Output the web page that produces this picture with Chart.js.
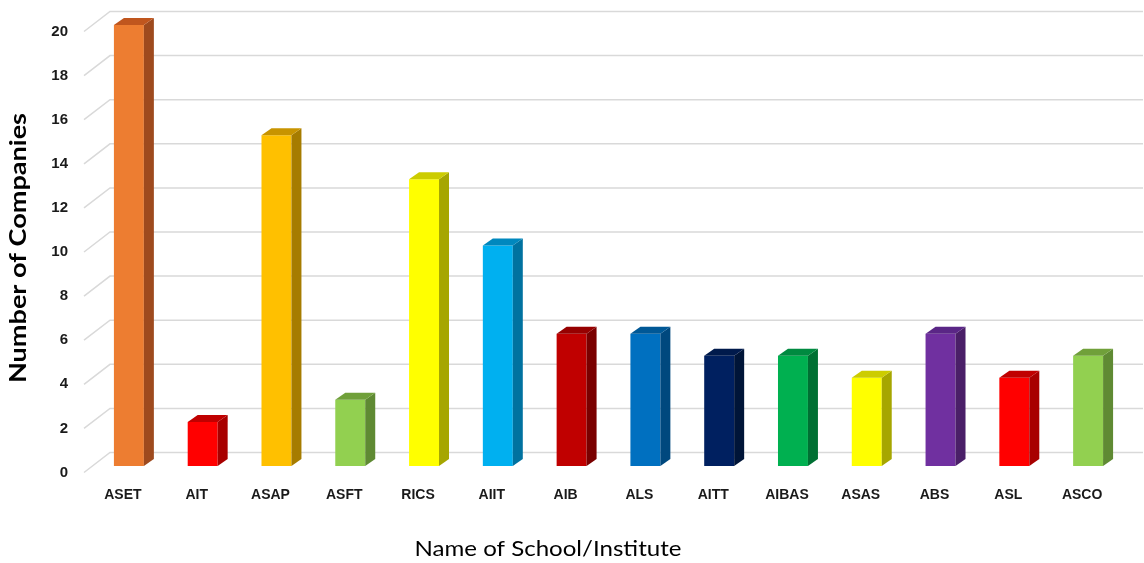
<!DOCTYPE html>
<html>
<head>
<meta charset="utf-8">
<script src="https://cdn.jsdelivr.net/npm/chart.js@4"></script>
<style>
html,body{margin:0;padding:0;background:#fff;}
#wrap{width:1144px;height:563px;position:relative;}
</style>
</head>
<body>
<div id="wrap"><canvas id="c" width="1144" height="563"></canvas></div>
<script>
const categories = ['ASET','AIT','ASAP','ASFT','RICS','AIIT','AIB','ALS','AITT','AIBAS','ASAS','ABS','ASL','ASCO'];
const companies = [20, 2, 15, 3, 13, 10, 6, 6, 5, 5, 4, 6, 4, 5];
const yTicks = [0, 2, 4, 6, 8, 10, 12, 14, 16, 18, 20];
const frontColors = ['#ED7D31','#FF0000','#FFC000','#92D050','#FFFF00','#00B0F0','#C00000','#0070C0','#002060','#00B050','#FFFF00','#7030A0','#FF0000','#92D050'];
const sideColors  = ['#9E4A1E','#A80000','#A67C00','#5F8A33','#A6A600','#0072A0','#7A0000','#00487E','#001538','#007033','#A6A600','#4A1F68','#A80000','#5F8A33'];
const topColors   = ['#C0561E','#C00000','#C89400','#70A03A','#CCCC00','#0088BE','#960000','#005896','#001A4C','#008A40','#CCCC00','#5A2686','#C00000','#70A03A'];
const xTitle = 'Name of School/Institute';
const yTitle = 'Number of Companies';

const DX = 10, DY = -7;

function drawFitted(ctx, text, font, cx, cy, targetW, rotate) {
  ctx.save();
  ctx.font = font;
  const w = ctx.measureText(text).width;
  ctx.translate(cx, cy);
  if (rotate) ctx.rotate(-Math.PI / 2);
  ctx.scale(targetW / w, 1);
  ctx.fillText(text, 0, 0);
  ctx.restore();
}

const threeD = {
  id: 'threeD',
  beforeDatasetsDraw(chart) {
    const {ctx} = chart;
    const y = chart.scales.y;
    ctx.save();
    ctx.strokeStyle = '#D9D9D9';
    ctx.lineWidth = 1.5;
    yTicks.forEach(v => {
      const p = y.getPixelForValue(v);
      ctx.beginPath();
      ctx.moveTo(84, p + 6.5);
      ctx.lineTo(110, p - 13.5);
      ctx.lineTo(1143, p - 13.5);
      ctx.stroke();
    });
    ctx.restore();
  },
  afterDatasetsDraw(chart) {
    const {ctx} = chart;
    const meta = chart.getDatasetMeta(0);
    ctx.save();
    meta.data.forEach((bar, i) => {
      const {x, y, base, width} = bar.getProps(['x','y','base','width'], true);
      const l = x - width/2, r = x + width/2;
      ctx.fillStyle = sideColors[i];
      ctx.beginPath();
      ctx.moveTo(r, base);
      ctx.lineTo(r + DX, base + DY);
      ctx.lineTo(r + DX, y + DY);
      ctx.lineTo(r, y);
      ctx.closePath();
      ctx.fill();
      ctx.fillStyle = topColors[i];
      ctx.beginPath();
      ctx.moveTo(l, y);
      ctx.lineTo(l + DX, y + DY);
      ctx.lineTo(r + DX, y + DY);
      ctx.lineTo(r, y);
      ctx.closePath();
      ctx.fill();
    });
    ctx.restore();
  },
  afterDraw(chart) {
    const {ctx} = chart;
    ctx.save();
    ctx.fillStyle = '#000';
    ctx.textAlign = 'center';
    ctx.textBaseline = 'middle';
    drawFitted(ctx, xTitle, '21px Lato', 548, 549, 267, false);
    drawFitted(ctx, yTitle, 'bold 22px Lato', 19, 248, 270, true);
    ctx.restore();
  }
};

new Chart(document.getElementById('c'), {
  type: 'bar',
  data: {
    labels: categories,
    datasets: [{
      data: companies,
      backgroundColor: frontColors,
      borderWidth: 0,
      barPercentage: 0.406,
      categoryPercentage: 1
    }]
  },
  options: {
    responsive: false,
    animation: false,
    layout: {padding: {left: 0, right: 19, top: 22, bottom: 0}},
    plugins: {legend: {display: false}, tooltip: {enabled: false}},
    scales: {
      x: {
        grid: {display: false},
        border: {display: false},
        ticks: {
          color: '#1a1a1a',
          font: {family: 'Liberation Sans, Arial', size: 14, weight: 'bold'},
          padding: 13,
          labelOffset: -6,
          maxRotation: 0,
          autoSkip: false
        },
        afterFit(s) { s.height = 97; }
      },
      y: {
        min: 0, max: 20,
        grid: {display: false},
        border: {display: false},
        afterBuildTicks(s) { s.ticks = yTicks.map(v => ({value: v})); },
        ticks: {
          color: '#1a1a1a',
          font: {family: 'Liberation Sans, Arial', size: 15, weight: 'bold'},
          padding: 16,
          labelOffset: 6.5
        },
        afterFit(s) { s.width = 92; }
      }
    }
  },
  plugins: [threeD]
});
</script>
</body>
</html>
